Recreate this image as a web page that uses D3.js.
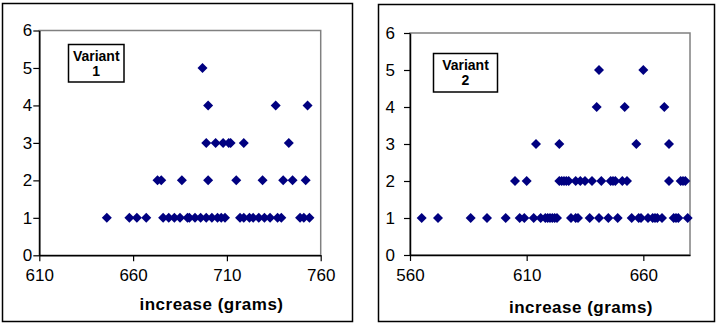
<!DOCTYPE html>
<html>
<head>
<meta charset="utf-8">
<script src="https://cdn.jsdelivr.net/npm/d3@7"></script>
<style>
  body { margin: 0; background: #fff; }
  svg { display: block; font-family: Arial, "Liberation Sans", sans-serif; }
</style>
</head>
<body>
<div id="chart"></div>
<script>
// weights (grams) per count level
const variant1Count1 = [646, 658, 662, 667, 676, 679, 682, 685, 689, 690, 693, 696, 699, 702, 705, 707, 709, 717, 719, 722, 724, 727, 730, 733, 737, 739, 749, 751, 754];
const variant1Count2 = [673, 675, 686, 700, 715, 729, 740, 745, 752];
const variant1Count3 = [699, 704, 708, 711, 712, 719, 743];
const variant1Count4 = [700, 736, 753];
const variant1Count5 = [697];

const variant2Count1 = [565, 572, 586, 593, 601, 607, 609, 613, 616, 618, 619, 620, 621, 622, 623, 629, 631, 632, 637, 641, 645, 649, 655, 658, 659, 662, 664, 665, 666, 668, 673, 674, 675, 679];
const variant2Count2 = [605, 610, 624, 625, 626, 627, 628, 631, 633, 635, 638, 642, 646, 647, 648, 651, 653, 671, 676, 677, 678];
const variant2Count3 = [614, 624, 657, 671];
const variant2Count4 = [640, 652, 669];
const variant2Count5 = [641, 660];

const yTicks = [0, 1, 2, 3, 4, 5, 6];
const variant1XTicks = [610, 660, 710, 760];
const variant2XTicks = [560, 610, 660];
const xLabel = 'increase (grams)';

function toPoints(levels) {
  const pts = [];
  levels.forEach((arr, i) => arr.forEach(v => pts.push([v, i + 1])));
  return pts;
}

const panels = [
  {
    frame: [2, 3, 350, 318],
    plot: { left: 39.3, right: 320.7, top: 30.5, bottom: 255.3 },
    xDomain: [610, 760],
    xTicks: variant1XTicks,
    yPad: 1,
    points: toPoints([variant1Count1, variant1Count2, variant1Count3, variant1Count4, variant1Count5]),
    legend: { x: 68.5, y: 44.5, w: 55.5, h: 37.5, lines: ['Variant', '1'] },
    labelPos: [211.5, 310]
  },
  {
    frame: [378, 4, 336, 317],
    plot: { left: 410, right: 690, top: 33, bottom: 255 },
    xDomain: [560, 680],
    xTicks: variant2XTicks,
    yPad: 9,
    points: toPoints([variant2Count1, variant2Count2, variant2Count3, variant2Count4, variant2Count5]),
    legend: { x: 433.5, y: 53.5, w: 64, h: 38.5, lines: ['Variant', '2'] },
    labelPos: [581, 313]
  }
];

const svg = d3.select('#chart').append('svg')
  .attr('width', 716)
  .attr('height', 323);

const diamond = d3.symbol(d3.symbolSquare, 50);

panels.forEach(p => {
  const g = svg.append('g');

  g.append('rect')
    .attr('x', p.frame[0] + 0.5).attr('y', p.frame[1] + 0.5)
    .attr('width', p.frame[2]).attr('height', p.frame[3])
    .attr('fill', '#fff').attr('stroke', '#000').attr('stroke-width', 1.5);

  const x = d3.scaleLinear().domain(p.xDomain).range([p.plot.left, p.plot.right]);
  const y = d3.scaleLinear().domain([0, 6]).range([p.plot.bottom, p.plot.top]);

  // plot area border (grey)
  g.append('rect')
    .attr('x', p.plot.left).attr('y', p.plot.top)
    .attr('width', p.plot.right - p.plot.left).attr('height', p.plot.bottom - p.plot.top)
    .attr('fill', 'none').attr('stroke', '#808080').attr('stroke-width', 1.5);

  const yAxis = g.append('g')
    .attr('transform', `translate(${p.plot.left},0)`)
    .call(d3.axisLeft(y).tickValues(yTicks).tickFormat(d3.format('d'))
      .tickSize(6).tickSizeOuter(0).tickPadding(p.yPad));
  const xAxis = g.append('g')
    .attr('transform', `translate(0,${p.plot.bottom})`)
    .call(d3.axisBottom(x).tickValues(p.xTicks).tickFormat(d3.format('d'))
      .tickSize(6).tickSizeOuter(0).tickPadding(8));

  [yAxis, xAxis].forEach(a => {
    a.select('.domain').attr('stroke', '#000').attr('stroke-width', 1.5);
    a.selectAll('.tick line').attr('stroke', '#000').attr('stroke-width', 1.2);
    a.selectAll('.tick text').attr('fill', '#000')
      .style('font-size', '17px').style('font-family', 'Arial, "Liberation Sans", sans-serif');
  });

  g.append('g').selectAll('path')
    .data(p.points)
    .join('path')
    .attr('d', diamond)
    .attr('transform', d => `translate(${x(d[0])},${y(d[1])}) rotate(45)`)
    .attr('fill', '#000080');

  const lg = g.append('g');
  lg.append('rect')
    .attr('x', p.legend.x).attr('y', p.legend.y)
    .attr('width', p.legend.w).attr('height', p.legend.h)
    .attr('fill', '#fff').attr('stroke', '#000').attr('stroke-width', 1.5);
  lg.selectAll('text')
    .data(p.legend.lines)
    .join('text')
    .attr('x', p.legend.x + p.legend.w / 2)
    .attr('y', (d, i) => p.legend.y + 16 + i * 15)
    .attr('text-anchor', 'middle')
    .style('font-size', '14px').style('font-weight', 'bold')
    .text(d => d);

  g.append('text')
    .attr('x', p.labelPos[0]).attr('y', p.labelPos[1])
    .attr('text-anchor', 'middle')
    .style('font-size', '17px').style('font-weight', 'bold')
    .style('letter-spacing', '0.5px')
    .text(xLabel);
});
</script>
</body>
</html>
